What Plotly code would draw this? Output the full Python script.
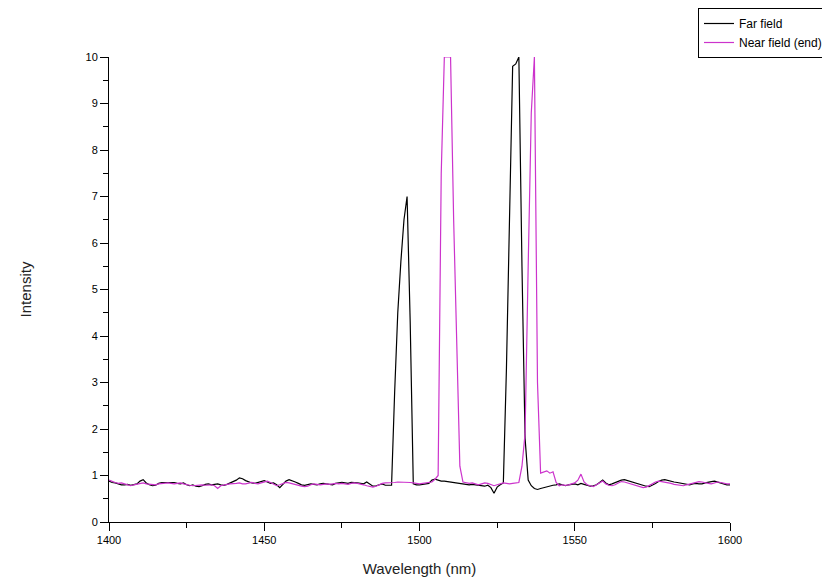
import plotly.graph_objects as go

wavelength = list(range(1400, 1601))

far_field = [
    0.88, 0.85, 0.84, 0.82, 0.80, 0.80, 0.81, 0.79, 0.80, 0.82,
    0.88, 0.91, 0.84, 0.80, 0.78, 0.79, 0.83, 0.85, 0.85, 0.85,
    0.84, 0.85, 0.83, 0.82, 0.84, 0.80, 0.78, 0.80, 0.77, 0.76,
    0.78, 0.81, 0.82, 0.80, 0.81, 0.82, 0.80, 0.79, 0.81, 0.84,
    0.86, 0.90, 0.95, 0.93, 0.89, 0.86, 0.84, 0.83, 0.85, 0.87,
    0.89, 0.86, 0.83, 0.84, 0.80, 0.74, 0.82, 0.88, 0.91, 0.89,
    0.86, 0.83, 0.80, 0.79, 0.80, 0.82, 0.81, 0.80, 0.82, 0.83,
    0.82, 0.81, 0.80, 0.83, 0.84, 0.85, 0.84, 0.83, 0.85, 0.85,
    0.84, 0.83, 0.82, 0.86, 0.81, 0.77, 0.78, 0.80, 0.82, 0.79,
    0.79, 0.79, 2.80, 4.50, 5.60, 6.50, 7.00, 4.30, 0.82, 0.80,
    0.80, 0.81, 0.81, 0.83, 0.90, 0.92, 0.90, 0.88, 0.88, 0.87,
    0.86, 0.84, 0.83, 0.82, 0.82, 0.80, 0.80, 0.81, 0.80, 0.79,
    0.78, 0.77, 0.79, 0.74, 0.62, 0.75, 0.80, 0.84, 3.30, 7.00,
    9.80, 9.85, 10.0, 5.50, 1.80, 0.90, 0.78, 0.72, 0.70, 0.72,
    0.74, 0.76, 0.78, 0.79, 0.80, 0.82, 0.80, 0.78, 0.80, 0.81,
    0.82, 0.80, 0.83, 0.81, 0.79, 0.77, 0.78, 0.80, 0.85, 0.90,
    0.84, 0.80, 0.82, 0.85, 0.88, 0.90, 0.91, 0.89, 0.86, 0.84,
    0.82, 0.80, 0.78, 0.77, 0.76, 0.79, 0.83, 0.87, 0.90, 0.91,
    0.89, 0.88, 0.86, 0.85, 0.84, 0.82, 0.81, 0.80, 0.82, 0.83,
    0.82, 0.82, 0.84, 0.86, 0.87, 0.88, 0.86, 0.84, 0.82, 0.80,
    0.80,
]

near_field_end = [
    0.90, 0.87, 0.85, 0.83, 0.84, 0.82, 0.80, 0.78, 0.80, 0.81,
    0.83, 0.84, 0.82, 0.81, 0.80, 0.80, 0.82, 0.83, 0.84, 0.84,
    0.83, 0.82, 0.83, 0.84, 0.82, 0.80, 0.79, 0.78, 0.79, 0.80,
    0.80, 0.79, 0.80, 0.80, 0.78, 0.72, 0.78, 0.80, 0.81, 0.82,
    0.82, 0.83, 0.84, 0.82, 0.82, 0.84, 0.85, 0.83, 0.82, 0.84,
    0.86, 0.88, 0.85, 0.82, 0.78, 0.80, 0.83, 0.85, 0.84, 0.82,
    0.80, 0.79, 0.77, 0.76, 0.77, 0.80, 0.82, 0.81, 0.80, 0.81,
    0.82, 0.81, 0.82, 0.83, 0.82, 0.83, 0.82, 0.81, 0.83, 0.84,
    0.83, 0.82, 0.80, 0.78, 0.76, 0.75, 0.77, 0.80, 0.83, 0.84,
    0.84, 0.85, 0.85, 0.86, 0.86, 0.85, 0.86, 0.85, 0.84, 0.83,
    0.82, 0.83, 0.84, 0.85, 0.86, 0.92, 1.00, 7.50, 10.0, 10.0,
    10.0, 6.50, 3.50, 1.20, 0.86, 0.84, 0.83, 0.84, 0.82, 0.80,
    0.82, 0.84, 0.83, 0.80, 0.78, 0.80, 0.82, 0.84, 0.83, 0.82,
    0.83, 0.84, 0.85, 1.20, 1.90, 5.50, 8.80, 10.0, 3.00, 1.05,
    1.08, 1.10, 1.05, 1.08, 0.85, 0.78, 0.80, 0.79, 0.80, 0.82,
    0.84, 0.90, 1.03, 0.86, 0.80, 0.78, 0.76, 0.80, 0.84, 0.88,
    0.82, 0.79, 0.78, 0.80, 0.84, 0.87, 0.86, 0.84, 0.82, 0.80,
    0.78, 0.76, 0.74, 0.75, 0.78, 0.82, 0.86, 0.88, 0.87, 0.86,
    0.84, 0.83, 0.81, 0.80, 0.79, 0.78, 0.80, 0.82, 0.84, 0.86,
    0.87, 0.86, 0.84, 0.83, 0.82, 0.84, 0.86, 0.85, 0.83, 0.82,
    0.82,
]

series_names = ["Far field", "Near field (end)"]
x_ticks = [1400, 1450, 1500, 1550, 1600]
y_ticks = list(range(0, 11))

FONT = "Liberation Sans, Arial, sans-serif"

# plot area in pixels
L, R, T, B = 101, 722, 49, 514
W, H = 830, 582

fig = go.Figure()
fig.add_trace(go.Scatter(x=wavelength, y=far_field, mode="lines", name=series_names[0],
                         line=dict(color="#000000", width=1.2)))
fig.add_trace(go.Scatter(x=wavelength, y=near_field_end, mode="lines", name=series_names[1],
                         line=dict(color="#CC33CC", width=1.2)))

fig.update_layout(
    width=W, height=H,
    paper_bgcolor="white", plot_bgcolor="white",
    margin=dict(l=L, r=W - R, t=T, b=H - B, autoexpand=False),
    font=dict(family=FONT, size=11, color="#000000"),
    showlegend=True,
    legend=dict(
        x=(690 - L) / (R - L), y=(B - 0) / (B - T), xanchor="left", yanchor="top",
        bgcolor="white", bordercolor="#000000", borderwidth=1,
        font=dict(family=FONT, size=12, color="#000000"),
        tracegroupgap=0, itemwidth=30,
    ),
)

fig.update_xaxes(
    range=[1400, 1600], tickmode="array", tickvals=x_ticks, ticktext=[str(v) for v in x_ticks],
    showline=True, linecolor="#000000", linewidth=1, mirror=False,
    ticks="outside", ticklen=8, tickcolor="#000000", tickwidth=1,
    minor=dict(dtick=25, ticks="outside", ticklen=5, tickcolor="#000000", showgrid=False),
    showgrid=False, zeroline=False,
    title=dict(text="Wavelength (nm)", font=dict(family=FONT, size=15, color="#222222"), standoff=18),
    automargin=False,
)
fig.update_yaxes(
    range=[0, 10], tickmode="array", tickvals=y_ticks, ticktext=[str(v) for v in y_ticks],
    showline=True, linecolor="#000000", linewidth=1, mirror=False,
    ticks="outside", ticklen=8, tickcolor="#000000", tickwidth=1,
    minor=dict(dtick=0.5, ticks="outside", ticklen=5, tickcolor="#000000", showgrid=False),
    showgrid=False, zeroline=False,
    title=dict(text="Intensity", font=dict(family=FONT, size=15, color="#222222"), standoff=50),
    automargin=False,
)

fig.write_html("out.html")
